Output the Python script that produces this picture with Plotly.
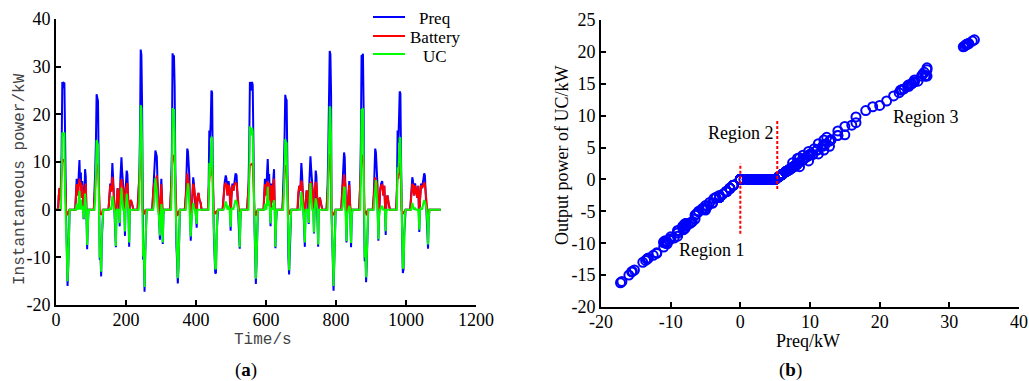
import plotly.graph_objects as go

# ---------------- data ----------------
# time series, first driving cycle
time_c1 = [0, 6, 8, 10, 12, 14, 16, 18, 20, 22, 24, 26, 27, 29, 31, 33, 35, 37, 39,
           55, 57, 59, 61, 63, 65, 67, 69, 71, 73, 75, 77, 79, 81, 83, 85, 87, 89, 91, 93,
           108, 110, 112, 114, 116, 118, 120, 122, 123, 125, 127, 129, 131, 133, 135,
           150, 152, 155, 158, 161, 163, 166, 168, 171, 173, 176, 179, 182, 184, 187, 189, 192, 195, 197, 199, 202, 204, 207, 209, 211, 214, 218, 221,
           233, 236, 238, 240, 242, 244, 246, 247, 249, 251, 253, 255, 257, 259,
           275, 278, 281, 284, 286, 288, 290, 292, 294, 297, 299, 301, 303, 305, 307, 309,
           326, 329, 331, 333, 335, 337, 339, 341, 342, 344, 346, 348, 350, 352, 354,
           368, 371, 373, 375, 377, 379, 381, 383, 385, 387, 390, 392, 394, 397, 400, 402, 404, 407, 410, 413, 416,
           434, 436, 438, 440, 442, 444, 446, 448, 449, 451, 453, 455, 457, 459, 461, 463,
           476, 479, 482, 485, 487, 490, 493, 496, 499, 501, 504, 507, 510, 513, 516, 519, 521, 523, 525, 527, 529]
preq_c1 = [0, 0, 3, 4.5, 2, 5, 12, 26.8, 25.5, 26.6, 26.5, 9, 0, -2, -8, -16, -12, -4, 0,
           0, 4, 6.5, 5.5, 3, 7.5, 10.4, 5, 7.8, 2.5, 6, 3.5, -2, 1.5, 8.5, 7, 0, -8.3, -3, 0,
           0, 3, 8, 14, 24.2, 23.5, 22.8, 10, 0, -10.5, -9, -14, -6, -1, 0,
           0, 3, 5.5, 3.8, 9.8, 7, 2.5, -1, -7.9, 0.5, 4.5, 3, -3.5, 6.5, 11, 8, 4, 2, -5.5, 4.5, 8.2, 7.4, 0, -7.8, 1.5, 2, 1, 0,
           0, 4, 7, 16, 33.6, 32.5, 22, 0, -10.5, -9, -17.2, -9, -2, 0,
           0, 4, 7.5, 12.4, 11.8, 11.2, 6, 3, -1.5, -6.3, 3.5, 6.5, 2, -7.2, -1, 0,
           0, 5, 12, 32.8, 32.0, 32.4, 26, 8, 0, -7.5, -10.8, -15.5, -12, -4, 0,
           0, 3, 8, 12.8, 12.2, 9.8, 7, 0, -6.5, -2, 4, 6.8, 5.5, 2.5, -1.5, -3.8, 2.5, 3.5, 2, 1.5, 0,
           0, 4, 16.6, 15, 18, 25, 24.6, 9, 0, -5, -9.5, -13.4, -13.2, -5, -1, 0,
           0, 3.5, 5.8, 7.2, 6.5, 3, 6, 4.5, -4.4, 2.5, 5.5, 4, 6.5, 7.6, 7.2, 3, 0, -3, -8.2, -2, 0]
batt_c1 = [0, 0, 3, 4.5, 2, 5, 6.6, 10.6, 10.1, 10.4, 10.3, 5.9, 0, -0.1, -1.0, -1.0, -0.5, -0.3, 0,
           0, 4, 5.3, 5.1, 3, 4.9, 6.5, 5, 5.7, 2.5, 5.2, 3.5, -0.1, 1.5, 5.1, 5.5, 0, -0.9, -0.5, 0,
           0, 3, 5.8, 7.1, 9.6, 9.3, 9.2, 6.1, 0, -0.4, -0.9, -1.0, -1.0, -0.1, 0,
           0, 3, 5.1, 3.8, 6.9, 5.5, 2.5, -0.1, -0.3, 0.5, 4.5, 3, -0.7, 5.3, 6.4, 5.7, 4, 2, -0.9, 4.5, 4.9, 5.6, 0, -0.9, 1.5, 2, 1, 0,
           0, 4, 5.5, 7.5, 11.7, 11.3, 8.9, 0, -0.7, -0.6, -1.0, -0.1, -0.1, 0,
           0, 4, 5.6, 5.8, 6.6, 7.2, 5.2, 3, -0.1, -0.9, 3.5, 5.3, 2, -0.3, -0.1, 0,
           0, 5, 6.6, 11.5, 11.2, 11.3, 9.8, 5.7, 0, -0.5, -1.2, -1.1, -0.4, -0.3, 0,
           0, 3, 5.7, 7.6, 6.7, 5.4, 5.5, 0, -0.9, -0.1, 4, 5.4, 5.1, 2.5, -0.1, -0.8, 2.5, 3.5, 2, 1.5, 0,
           0, 4, 6.8, 8.0, 7.2, 9.7, 9.6, 5.9, 0, -0.9, -0.3, -0.9, -0.9, -0.4, -0.1, 0,
           0, 3.5, 5.2, 5.5, 5.3, 3, 5.2, 4.5, -0.8, 2.5, 5.1, 4, 5.3, 5.6, 5.5, 3, 0, -0.2, -0.3, -0.1, 0]
uc_c1 = [0, 0, 0, 0, 0, 0, 5.4, 16.2, 15.4, 16.2, 16.2, 3.1, 0, -1.9, -7.0, -15.0, -11.5, -3.7, 0,
         0, 0, 1.2, 0.4, 0, 2.6, 3.9, 0, 2.1, 0, 0.8, 0, -1.9, 0, 3.4, 1.5, 0, -7.4, -2.5, 0,
         0, 0, 2.2, 6.9, 14.6, 14.2, 13.6, 3.9, 0, -10.1, -8.1, -13.0, -5.0, -0.9, 0,
         0, 0, 0.4, 0, 2.9, 1.5, 0, -0.9, -7.6, 0, 0, 0, -2.8, 1.2, 4.6, 2.3, 0, 0, -4.6, 0, 3.3, 1.8, 0, -6.9, 0, 0, 0, 0,
         0, 0, 1.5, 8.5, 21.9, 21.2, 13.1, 0, -9.8, -8.4, -16.2, -8.9, -1.9, 0,
         0, 0, 1.9, 6.6, 5.2, 4.0, 0.8, 0, -1.4, -5.4, 0, 1.2, 0, -6.9, -0.9, 0,
         0, 0, 5.4, 21.3, 20.8, 21.1, 16.2, 2.3, 0, -7.0, -9.6, -14.4, -11.6, -3.7, 0,
         0, 0, 2.3, 5.2, 5.5, 4.4, 1.5, 0, -5.6, -1.9, 0, 1.4, 0.4, 0, -1.4, -3.0, 0, 0, 0, 0, 0,
         0, 0, 9.8, 7.0, 10.8, 15.3, 15.0, 3.1, 0, -4.1, -9.2, -12.5, -12.3, -4.6, -0.9, 0,
         0, 0, 0.6, 1.7, 1.2, 0, 0.8, 0, -3.6, 0, 0.4, 0, 1.2, 2.0, 1.7, 0, 0, -2.8, -7.9, -1.9, 0]

# time series, second driving cycle
time_c2 = [546, 548, 550, 552, 554, 556, 558, 560, 562, 564, 566, 567, 569, 571, 573, 575, 577,
           593, 595, 597, 599, 601, 603, 605, 607, 609, 611, 613, 615, 617, 619, 621, 623, 625, 627, 629, 631,
           647, 649, 651, 653, 655, 657, 659, 661, 662, 664, 666, 668, 670, 672,
           690, 692, 695, 698, 701, 703, 706, 708, 711, 713, 716, 719, 722, 724, 727, 729, 732, 735, 737, 739, 742, 744, 747, 749, 751, 754, 758, 761,
           773, 776, 778, 780, 782, 784, 786, 787, 789, 791, 793, 795, 797, 799,
           815, 817, 819, 821, 823, 825, 827, 828, 830, 832, 835, 838, 840, 843, 845, 847,
           866, 869, 871, 873, 875, 877, 879, 880, 882, 884, 886, 888, 890, 892,
           905, 908, 910, 912, 914, 916, 918, 919, 921, 923, 926, 929, 932, 935, 938, 940, 942, 944, 947, 950, 954,
           972, 974, 976, 978, 980, 982, 984, 986, 987, 989, 991, 993, 995, 997, 999,
           1012, 1015, 1018, 1020, 1023, 1026, 1029, 1032, 1035, 1038, 1040, 1043, 1046, 1049, 1052, 1054, 1057, 1059, 1061, 1063, 1065, 1067, 1099]
preq_c2 = [0, 3, 5, 13, 26.8, 25, 26.4, 26.8, 26.2, 10, 0, -3, -9, -15.6, -11, -3, 0,
           0, 4, 6.5, 5, 3, 7.8, 10.6, 6, 7.5, 2.5, -3.5, 5.5, 3, 1.5, 6.5, 8.5, 0, -8.1, -2.5, 0,
           0, 3, 9, 15, 24.1, 23.2, 23, 10, 0, -10, -13.6, -7, -1.5, 0,
           0, 3.5, 5, 4, 9.8, 7.5, 2, -1.5, -7.8, 1, 4, 3.5, -3, 6, 11.2, 8.5, 4.5, 2.5, -5, 4, 8.2, 7, 0, -7.8, 2, 2.5, 1, 0,
           0, 5, 13, 20, 33.3, 32.6, 24, 0, -10.2, -11, -17.0, -10, -3, 0,
           0, 3, 6, 9, 12, 11, 5, 0, -6.9, -1, 3.5, 6, 1.5, -7.9, -1.5, 0,
           0, 5, 14, 32.4, 32.2, 32.7, 21, 0, -10.8, -8, -15.2, -11, -3, 0,
           0, 3, 8, 12.8, 12, 9.5, 6, 0, -6.5, -1.5, 4, 5.5, 6, 3, 5, 1, -5.3, 2, 3, 1.5, 0,
           0, 4, 16.6, 14, 19, 24.8, 24.4, 10, 0, -6, -13.3, -12.5, -5, -1, 0,
           0, 3.5, 6.8, 6, 3, 5.5, 4, 2.5, 5, -4.7, 2, 5.5, 4.5, 6.5, 7.6, 7.2, 3, 0, -3, -8.2, -2, 0, 0]
batt_c2 = [0, 3, 5, 6.8, 9.3, 9.4, 9.6, 9.6, 9.7, 6.1, 0, -0.2, -1.0, -1.1, -0.4, -0.2, 0,
           0, 4, 5.3, 5, 3, 5.7, 5.8, 5.2, 5.6, 2.5, -0.6, 5.1, 3, 1.5, 5.3, 6.5, 0, -0.3, -0.2, 0,
           0, 3, 5.9, 6.7, 9.3, 9.1, 9.0, 6.1, 0, -1.0, -0.9, -0.3, -0.1, 0,
           0, 3.5, 5, 4, 6.1, 5.6, 2, -0.1, -0.9, 1, 4, 3.5, -0.2, 5.2, 5.6, 5.8, 4.5, 2.5, -0.2, 4, 5.8, 5.5, 0, -0.5, 2, 2.5, 1, 0,
           0, 5, 6.8, 8.4, 11.6, 11.4, 9.4, 0, -0.7, -1.1, -1.0, -0.7, -0.2, 0,
           0, 3, 5.2, 5.2, 7.4, 6.4, 5, 0, -0.3, -0.1, 3.5, 5.2, 1.5, -0.9, -0.1, 0,
           0, 5, 7.1, 11.3, 11.3, 11.4, 8.7, 0, -0.8, -0.3, -1.0, -1.2, -0.2, 0,
           0, 3, 5.7, 6.8, 5.8, 6.0, 5.2, 0, -0.3, -0.1, 4, 5.1, 5.2, 3, 5, 1, -0.8, 2, 3, 1.5, 0,
           0, 4, 7.7, 6.4, 7.6, 9.6, 9.5, 6.1, 0, -0.9, -0.9, -0.6, -0.4, -0.1, 0,
           0, 3.5, 5.4, 5.2, 3, 5.1, 4, 2.5, 5, -0.5, 2, 5.1, 4.5, 5.3, 5.6, 5.5, 3, 0, -0.2, -0.9, -0.1, 0, 0]
uc_c2 = [0, 0, 0, 6.2, 17.5, 15.6, 16.8, 17.2, 16.5, 3.9, 0, -2.8, -8.0, -14.5, -10.6, -2.8, 0,
         0, 0, 1.2, 0, 0, 2.1, 4.8, 0.8, 1.9, 0, -2.9, 0.4, 0, 0, 1.2, 2.0, 0, -7.8, -2.3, 0,
         0, 0, 3.1, 8.3, 14.8, 14.1, 14.0, 3.9, 0, -9.0, -12.7, -6.7, -1.4, 0,
         0, 0, 0, 0, 3.7, 1.9, 0, -1.4, -6.9, 0, 0, 0, -2.8, 0.8, 5.6, 2.7, 0, 0, -4.8, 0, 2.4, 1.5, 0, -7.3, 0, 0, 0, 0,
         0, 0, 6.2, 11.6, 21.7, 21.2, 14.6, 0, -9.5, -9.9, -16.0, -9.3, -2.8, 0,
         0, 0, 0.8, 3.8, 4.6, 4.6, 0, 0, -6.6, -0.9, 0, 0.8, 0, -7.0, -1.4, 0,
         0, 0, 6.9, 21.1, 20.9, 21.3, 12.3, 0, -10.0, -7.7, -14.2, -9.8, -2.8, 0,
         0, 0, 2.3, 6.0, 6.2, 3.5, 0.8, 0, -6.2, -1.4, 0, 0.4, 0.8, 0, 0, 0, -4.5, 0, 0, 0, 0,
         0, 0, 8.9, 7.6, 11.4, 15.2, 14.9, 3.9, 0, -5.1, -12.4, -11.9, -4.6, -0.9, 0,
         0, 0, 1.4, 0.8, 0, 0.4, 0, 0, 0, -4.2, 0, 0.4, 0, 1.2, 2.0, 1.7, 0, 0, -2.8, -7.3, -1.9, 0, 0]

# region boundaries in panel (b)
boundary1_x = [0, 0]
boundary1_y = [-8.5, 2.5]
boundary2_x = [5.3, 5.3]
boundary2_y = [-1.5, 9.2]

# tick labels
ticks_time = [0, 200, 400, 600, 800, 1000, 1200]
ticks_power = [-20, -10, 0, 10, 20, 30, 40]
ticks_preq = [-20, -10, 0, 10, 20, 30, 40]
ticks_uc = [-20, -15, -10, -5, 0, 5, 10, 15, 20, 25]

series_names = ["Preq", "Battery", "UC"]
series_colors = ["#0000ff", "#ff0000", "#00ff00"]

time_s = time_c1 + time_c2
preq_kw = preq_c1 + preq_c2
batt_kw = batt_c1 + batt_c2
uc_kw = uc_c1 + uc_c2
assert len(time_s) == len(preq_kw) == len(batt_kw) == len(uc_kw)

# ---------------- figure ----------------
W, H = 1029, 381
def fx(p):
    return p / W
def fy(p):
    return 1 - p / H

fig = go.Figure()
for vals, name, col in zip([preq_kw, batt_kw, uc_kw], series_names, series_colors):
    fig.add_trace(go.Scatter(x=time_s, y=vals, mode="lines", name=name,
                             line=dict(color=col, width=2), xaxis="x", yaxis="y",
                             showlegend=False))

fig.add_trace(go.Scatter(x=preq_kw, y=uc_kw, mode="markers", xaxis="x2", yaxis="y2",
                         marker=dict(symbol="circle-open", size=9, color="#0000ff",
                                     line=dict(width=2, color="#0000ff")),
                         showlegend=False))
for bx, by in [(boundary1_x, boundary1_y), (boundary2_x, boundary2_y)]:
    fig.add_trace(go.Scatter(x=bx, y=by, mode="lines", xaxis="x2", yaxis="y2",
                             line=dict(color="#ff0000", width=2, dash="3px,2px"),
                             showlegend=False))

tickfont = dict(family="Liberation Serif", size=18, color="black")
common = dict(showline=True, linecolor="black", linewidth=2, ticks="inside", ticklen=5,
              tickwidth=2, tickcolor="black", showgrid=False, zeroline=False,
              tickfont=tickfont, mirror=False, automargin=False)

def lab(v):
    return [str(x) for x in v]

fig.update_layout(
    width=W, height=H, margin=dict(l=0, r=0, t=0, b=0, autoexpand=False),
    paper_bgcolor="white", plot_bgcolor="white", showlegend=False,
    xaxis=dict(domain=[fx(56), fx(476)], range=[0, 1200], anchor="y",
               tickvals=ticks_time, ticktext=lab(ticks_time), ticklabelstandoff=-3, **common),
    yaxis=dict(domain=[fy(305), fy(19)], range=[-20, 40], anchor="x",
               tickvals=ticks_power, ticktext=lab(ticks_power), **common),
    xaxis2=dict(domain=[fx(601), fx(1019)], range=[-20, 40], anchor="y2",
                tickvals=ticks_preq, ticktext=lab(ticks_preq), ticklabelstandoff=-3, **common),
    yaxis2=dict(domain=[fy(307), fy(20)], range=[-20, 25], anchor="x2",
                tickvals=ticks_uc, ticktext=lab(ticks_uc), **common),
)

serif = "Liberation Serif"
mono = "Liberation Mono"
ann = []
def add_text(px, py, text, font, angle=0):
    ann.append(dict(x=fx(px), y=fy(py), xref="paper", yref="paper", text=text,
                    textangle=angle, showarrow=False, xanchor="center", yanchor="middle",
                    font=font))

add_text(20, 179, "Instantaneous power/kW", dict(family=mono, size=16, color="#444444"), -90)
add_text(263, 340, "Time/s", dict(family=mono, size=16, color="#444444"))
add_text(246, 370, "(<b>a</b>)", dict(family=serif, size=19, color="black"))
add_text(562, 156, "Output power of UC/kW", dict(family=serif, size=18, color="black"), -90)
add_text(808, 341, "Preq/kW", dict(family=serif, size=18, color="black"))
add_text(790, 370, "(<b>b</b>)", dict(family=serif, size=19, color="black"))
for txt, xx, yy in [("Region 1", -4.1, -11.0), ("Region 2", 0.1, 7.3), ("Region 3", 26.7, 9.8)]:
    ann.append(dict(x=xx, y=yy, xref="x2", yref="y2", text=txt, showarrow=False,
                    xanchor="center", yanchor="middle",
                    font=dict(family=serif, size=18, color="black")))

# legend (panel a)
shapes = []
for name, col, ly, ty in zip(series_names, series_colors, [17, 36, 54], [18, 38, 57]):
    shapes.append(dict(type="line", xref="paper", yref="paper", x0=fx(373), x1=fx(405),
                       y0=fy(ly), y1=fy(ly), line=dict(color=col, width=2)))
    add_text(435, ty, name, dict(family=serif, size=17, color="black"))

fig.update_layout(annotations=ann, shapes=shapes)
fig.write_html("out.html")
